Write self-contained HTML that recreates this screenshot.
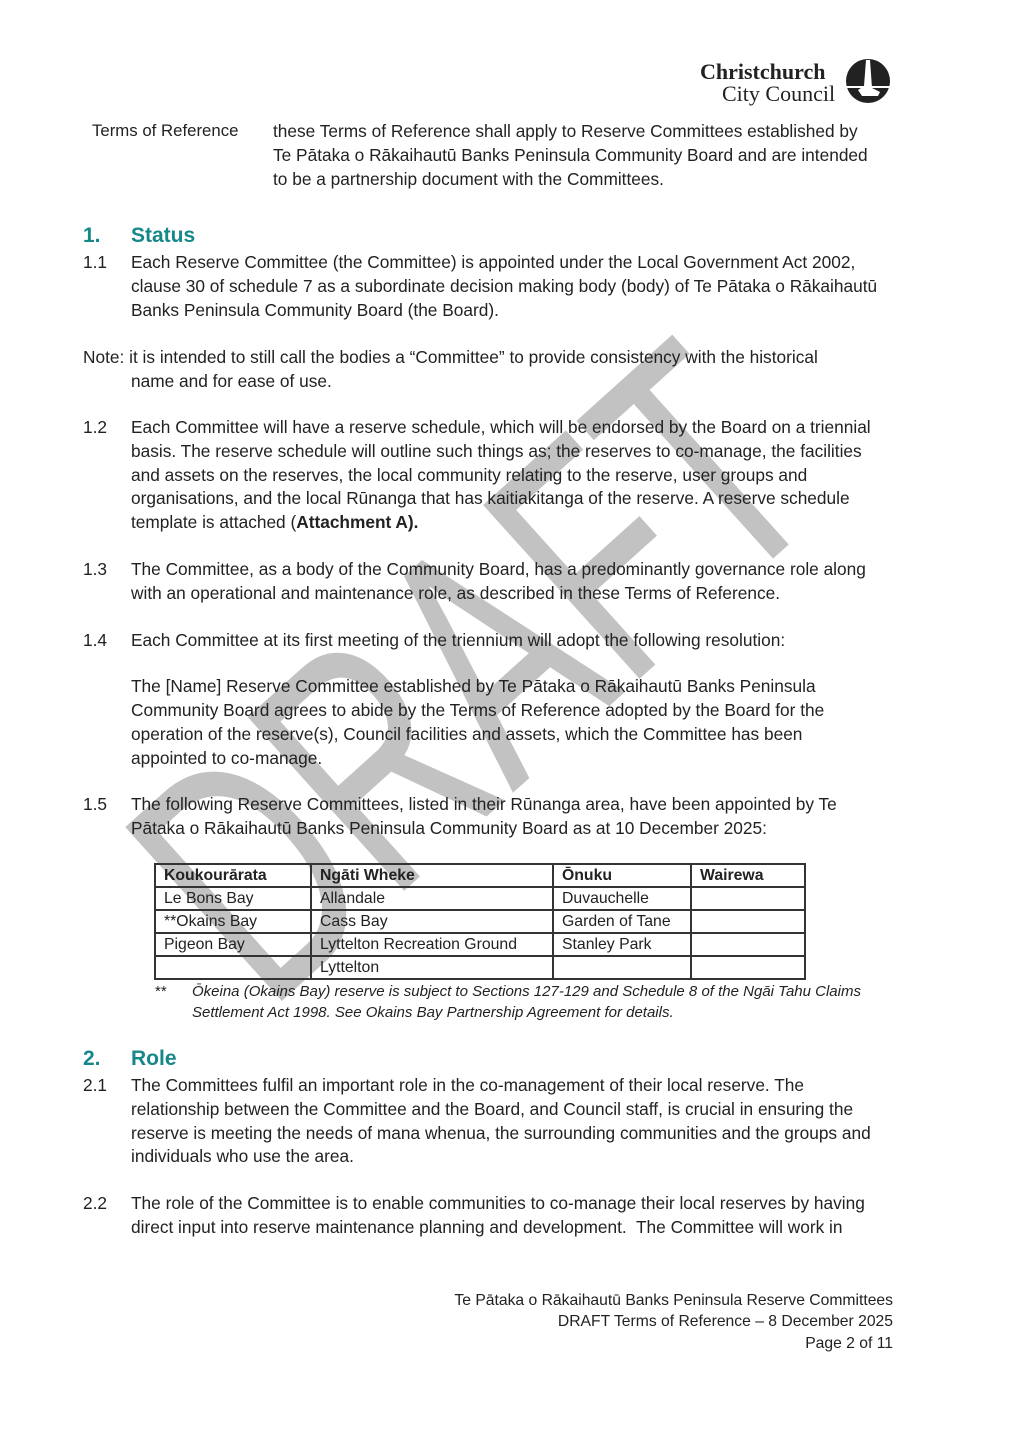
<!DOCTYPE html>
<html><head><meta charset="utf-8"><style>
body{margin:0;background:#fff;}
#p{position:relative;width:1012px;height:1433px;overflow:hidden;background:#fff;font-family:"Liberation Sans",sans-serif;color:#222;font-size:17.3px;}
.l{position:absolute;white-space:nowrap;line-height:20px;}
.h{position:absolute;color:#16888a;font-weight:bold;font-size:21px;line-height:24px;}
.n{position:absolute;white-space:nowrap;line-height:20px;}
table{position:absolute;left:154px;top:863px;border-collapse:collapse;font-size:15.8px;}
td{border:2px solid #333;height:21px;padding:0 0 0 8px;line-height:21px;white-space:nowrap;}
.f{position:absolute;right:119px;white-space:nowrap;font-size:15.7px;line-height:20px;text-align:right;}
</style></head><body><div id="p">
<svg style="position:absolute;left:0;top:0" width="1012" height="1433">
<text x="470" y="790" transform="rotate(-42 470 670)" text-anchor="middle" font-family="Liberation Sans" font-size="340" textLength="760" lengthAdjust="spacingAndGlyphs" fill="#c2c2c2">DRAFT</text>
<circle cx="868" cy="81" r="22" fill="#222"/>
<path d="M866 60 L870 60 L872 88 L880 92 L878 96 L862 96 L858 90 L864 86 Z" fill="#fff"/>
<rect x="846" y="86" width="44" height="2" fill="#fff"/>
</svg>
<div style="position:absolute;left:700px;top:60px;font-family:'Liberation Serif',serif;font-weight:bold;font-size:22px;line-height:24px;color:#222">Christchurch</div>
<div style="position:absolute;left:722px;top:82px;font-family:'Liberation Serif',serif;font-size:22px;line-height:24px;color:#222">City Council</div>

<div class="l" style="left:92px;top:121px;font-size:16.8px">Terms of Reference</div>
<div class="l" style="left:273px;top:121px">these Terms of Reference shall apply to Reserve Committees established by</div>
<div class="l" style="left:273px;top:145px">Te Pātaka o Rākaihautū Banks Peninsula Community Board and are intended</div>
<div class="l" style="left:273px;top:169px">to be a partnership document with the Committees.</div>

<div class="h" style="left:83px;top:224px">1.</div><div class="h" style="left:131px;top:224px">Status</div>
<div class="n" style="left:83px;top:252px">1.1</div>
<div class="l" style="left:131px;top:252px">Each Reserve Committee (the Committee) is appointed under the Local Government Act 2002,</div>
<div class="l" style="left:131px;top:276px">clause 30 of schedule 7 as a subordinate decision making body (body) of Te Pātaka o Rākaihautū</div>
<div class="l" style="left:131px;top:300px">Banks Peninsula Community Board (the Board).</div>

<div class="l" style="left:83px;top:347px">Note: it is intended to still call the bodies a “Committee” to provide consistency with the historical</div>
<div class="l" style="left:131px;top:371px">name and for ease of use.</div>

<div class="n" style="left:83px;top:417px">1.2</div>
<div class="l" style="left:131px;top:417px">Each Committee will have a reserve schedule, which will be endorsed by the Board on a triennial</div>
<div class="l" style="left:131px;top:441px">basis. The reserve schedule will outline such things as; the reserves to co-manage, the facilities</div>
<div class="l" style="left:131px;top:465px">and assets on the reserves, the local community relating to the reserve, user groups and</div>
<div class="l" style="left:131px;top:488px">organisations, and the local Rūnanga that has kaitiakitanga of the reserve. A reserve schedule</div>
<div class="l" style="left:131px;top:512px">template is attached (<b>Attachment A).</b></div>

<div class="n" style="left:83px;top:559px">1.3</div>
<div class="l" style="left:131px;top:559px">The Committee, as a body of the Community Board, has a predominantly governance role along</div>
<div class="l" style="left:131px;top:583px">with an operational and maintenance role, as described in these Terms of Reference.</div>

<div class="n" style="left:83px;top:630px">1.4</div>
<div class="l" style="left:131px;top:630px">Each Committee at its first meeting of the triennium will adopt the following resolution:</div>
<div class="l" style="left:131px;top:676px">The [Name] Reserve Committee established by Te Pātaka o Rākaihautū Banks Peninsula</div>
<div class="l" style="left:131px;top:700px">Community Board agrees to abide by the Terms of Reference adopted by the Board for the</div>
<div class="l" style="left:131px;top:724px">operation of the reserve(s), Council facilities and assets, which the Committee has been</div>
<div class="l" style="left:131px;top:748px">appointed to co-manage.</div>

<div class="n" style="left:83px;top:794px">1.5</div>
<div class="l" style="left:131px;top:794px">The following Reserve Committees, listed in their Rūnanga area, have been appointed by Te</div>
<div class="l" style="left:131px;top:818px">Pātaka o Rākaihautū Banks Peninsula Community Board as at 10 December 2025:</div>

<table>
<tr><td style="width:146px"><b>Koukourārata</b></td><td style="width:232px"><b>Ngāti Wheke</b></td><td style="width:128px"><b>Ōnuku</b></td><td style="width:104px"><b>Wairewa</b></td></tr>
<tr><td>Le Bons Bay</td><td>Allandale</td><td>Duvauchelle</td><td></td></tr>
<tr><td>**Okains Bay</td><td>Cass Bay</td><td>Garden of Tane</td><td></td></tr>
<tr><td>Pigeon Bay</td><td>Lyttelton Recreation Ground</td><td>Stanley Park</td><td></td></tr>
<tr><td></td><td>Lyttelton</td><td></td><td></td></tr>
</table>
<div class="l" style="left:155px;top:982px;font-size:15px">**</div>
<div class="l" style="left:192px;top:982px;font-size:15px;font-style:italic">Ōkeina (Okains Bay) reserve is subject to Sections 127-129 and Schedule 8 of the Ngāi Tahu Claims</div>
<div class="l" style="left:192px;top:1003px;font-size:15px;font-style:italic">Settlement Act 1998. See Okains Bay Partnership Agreement for details.</div>

<div class="h" style="left:83px;top:1047px">2.</div><div class="h" style="left:131px;top:1047px">Role</div>
<div class="n" style="left:83px;top:1075px">2.1</div>
<div class="l" style="left:131px;top:1075px">The Committees fulfil an important role in the co-management of their local reserve. The</div>
<div class="l" style="left:131px;top:1099px">relationship between the Committee and the Board, and Council staff, is crucial in ensuring the</div>
<div class="l" style="left:131px;top:1123px">reserve is meeting the needs of mana whenua, the surrounding communities and the groups and</div>
<div class="l" style="left:131px;top:1146px">individuals who use the area.</div>

<div class="n" style="left:83px;top:1193px">2.2</div>
<div class="l" style="left:131px;top:1193px">The role of the Committee is to enable communities to co-manage their local reserves by having</div>
<div class="l" style="left:131px;top:1217px">direct input into reserve maintenance planning and development.&nbsp; The Committee will work in</div>

<div class="f" style="top:1291px">Te Pātaka o Rākaihautū Banks Peninsula Reserve Committees</div>
<div class="f" style="top:1312px">DRAFT Terms of Reference – 8 December 2025</div>
<div class="f" style="top:1334px">Page 2 of 11</div>
</div></body></html>
